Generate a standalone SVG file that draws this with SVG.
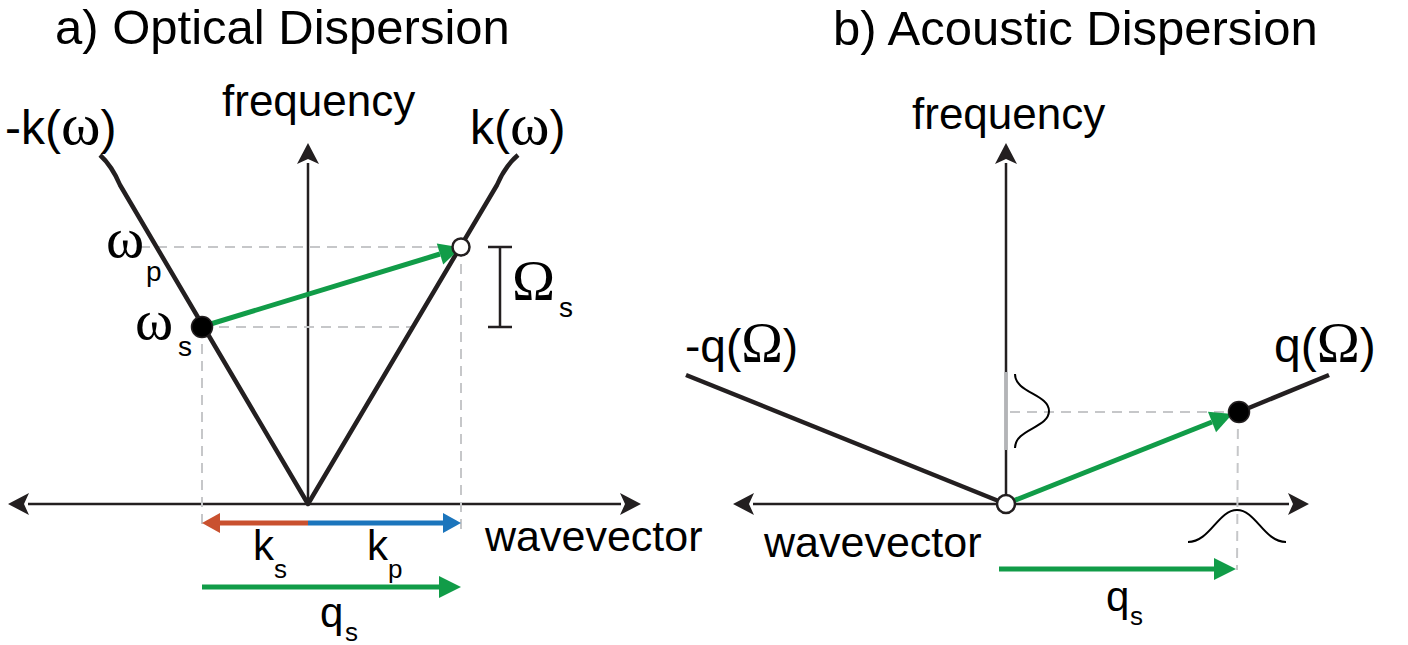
<svg xmlns="http://www.w3.org/2000/svg" width="1408" height="645" viewBox="0 0 1408 645">
<style>
.t{font-family:"Liberation Sans",Arial,sans-serif;fill:#000}
.g{font-family:"Liberation Serif","Times New Roman",serif;fill:#000}
.axis{stroke:#231f20;stroke-width:2.5;fill:none}
.curve{stroke:#231f20;stroke-width:4.5;fill:none;stroke-linejoin:round}
.dash{stroke:#c6c7c9;stroke-width:2;stroke-dasharray:10 7;fill:none}
.grn{stroke:#119c48;stroke-width:5;fill:none}
.gauss{stroke:#000;stroke-width:2;fill:none}
</style>
<defs>
<marker id="ah" markerUnits="userSpaceOnUse" viewBox="-2 -12 24 24" refX="0" refY="0" markerWidth="24" markerHeight="24" orient="auto" overflow="visible">
<path d="M20,0 L-1,-11 L4,0 L-1,11 Z" fill="#231f20"/>
</marker>
<marker id="gh" markerUnits="userSpaceOnUse" viewBox="0 -12 24 24" refX="0" refY="0" markerWidth="24" markerHeight="24" orient="auto" overflow="visible">
<path d="M22,0 L0,-11 L0,11 Z" fill="#119c48"/>
</marker>
<marker id="rh" markerUnits="userSpaceOnUse" viewBox="0 -12 24 24" refX="0" refY="0" markerWidth="24" markerHeight="24" orient="auto" overflow="visible">
<path d="M18,0 L0,-10 L0,10 Z" fill="#c9512f"/>
</marker>
<marker id="bh" markerUnits="userSpaceOnUse" viewBox="0 -12 24 24" refX="0" refY="0" markerWidth="24" markerHeight="24" orient="auto" overflow="visible">
<path d="M18,0 L0,-10 L0,10 Z" fill="#1b75bc"/>
</marker>
</defs>

<g id="panel-a">
<text class="t" x="55" y="44" font-size="49">a) Optical Dispersion</text>
<g id="a-axes">
<line class="axis" x1="308" y1="504" x2="308" y2="163" marker-end="url(#ah)"/>
<line class="axis" x1="308" y1="504" x2="28" y2="504" marker-end="url(#ah)"/>
<line class="axis" x1="308" y1="504" x2="621" y2="504" marker-end="url(#ah)"/>
<text class="t" x="222" y="116" font-size="44">frequency</text>
<text class="t" x="485" y="551" font-size="43">wavevector</text>
</g>
<g id="a-guides">
<line class="dash" x1="140" y1="247" x2="461" y2="247"/>
<line class="dash" x1="202" y1="327" x2="413" y2="327"/>
<line class="dash" x1="202" y1="327" x2="202" y2="530"/>
<line class="dash" x1="461" y1="247" x2="461" y2="530"/>
</g>
<g id="a-curves">
<path class="curve" d="M100,155 Q112,166 120,185 L308,504 L497,185 Q505,166 518,155"/>
<text class="t" x="5" y="144" font-size="48">-k(<tspan class="g" font-size="60">ω</tspan>)</text>
<text class="t" x="470" y="144" font-size="48">k(<tspan class="g" font-size="60">ω</tspan>)</text>
</g>
<g id="a-omega-p">
<text class="g" x="106" y="257" font-size="58">ω</text>
<text class="t" x="146" y="281" font-size="28">p</text>
</g>
<g id="a-omega-s">
<text class="g" x="135" y="339" font-size="58">ω</text>
<text class="t" x="178" y="356" font-size="28">s</text>
</g>
<g id="a-Omega-s">
<path d="M500,247 V327 M488,247 H512 M488,327 H512" stroke="#231f20" stroke-width="2.5" fill="none"/>
<text class="g" x="512" y="300" font-size="58">Ω</text>
<text class="t" x="559" y="317" font-size="28">s</text>
</g>
<g id="a-transition">
<line class="grn" x1="204" y1="326" x2="440" y2="254" marker-end="url(#gh)"/>
<circle cx="202" cy="327" r="10.5" fill="#000" stroke="#231f20" stroke-width="1.5"/>
<circle cx="461" cy="247" r="8.5" fill="#fff" stroke="#231f20" stroke-width="2.5"/>
</g>
<g id="a-vectors">
<line x1="308" y1="523" x2="220" y2="523" stroke="#c9512f" stroke-width="5" marker-end="url(#rh)"/>
<line x1="308" y1="523" x2="443" y2="523" stroke="#1b75bc" stroke-width="5" marker-end="url(#bh)"/>
<text class="t" x="253" y="560" font-size="42">k</text>
<text class="t" x="274" y="578" font-size="26">s</text>
<text class="t" x="367" y="560" font-size="42">k</text>
<text class="t" x="388" y="578" font-size="26">p</text>
<line class="grn" x1="202" y1="587" x2="439" y2="587" marker-end="url(#gh)"/>
<text class="t" x="320" y="627" font-size="42">q</text>
<text class="t" x="345" y="641" font-size="26">s</text>
</g>
</g>

<g id="panel-b">
<text class="t" x="833" y="45" font-size="49">b) Acoustic Dispersion</text>
<g id="b-axes">
<line class="axis" x1="1006" y1="504" x2="1006" y2="163" marker-end="url(#ah)"/>
<line class="axis" x1="1006" y1="504" x2="753" y2="504" marker-end="url(#ah)"/>
<line class="axis" x1="1006" y1="504" x2="1289" y2="504" marker-end="url(#ah)"/>
<line x1="1006" y1="372" x2="1006" y2="450" stroke="#b3b4b7" stroke-width="3.5"/>
<text class="t" x="912" y="129" font-size="44">frequency</text>
<text class="t" x="764" y="557" font-size="43">wavevector</text>
</g>
<g id="b-guides">
<line class="dash" x1="1010" y1="412" x2="1239" y2="412"/>
<line class="dash" x1="1238" y1="412" x2="1237" y2="570"/>
<path class="gauss" d="M1015,374 C1015,393 1049,394 1049,411 C1049,428 1015,429 1015,448"/>
<path class="gauss" d="M1188,542 C1210,542 1218,510 1237,510 C1256,510 1264,542 1286,542"/>
</g>
<g id="b-curves">
<line class="curve" x1="686" y1="375" x2="1006" y2="504"/>
<line class="curve" x1="1239" y1="412" x2="1329" y2="375"/>
<text class="t" x="685" y="362" font-size="46">-q(<tspan class="g" font-size="56">Ω</tspan>)</text>
<text class="t" x="1274" y="362" font-size="48">q(<tspan class="g" font-size="58">Ω</tspan>)</text>
</g>
<g id="b-transition">
<line class="grn" x1="1008" y1="503" x2="1212" y2="422" marker-end="url(#gh)"/>
<circle cx="1239" cy="412" r="10.5" fill="#000" stroke="#231f20" stroke-width="1.5"/>
<circle cx="1006" cy="504" r="9" fill="#fff" stroke="#231f20" stroke-width="2.5"/>
</g>
<g id="b-vectors">
<line class="grn" x1="999" y1="569" x2="1214" y2="569" marker-end="url(#gh)"/>
<text class="t" x="1106" y="611" font-size="42">q</text>
<text class="t" x="1130" y="625" font-size="26">s</text>
</g>
</g>
</svg>
